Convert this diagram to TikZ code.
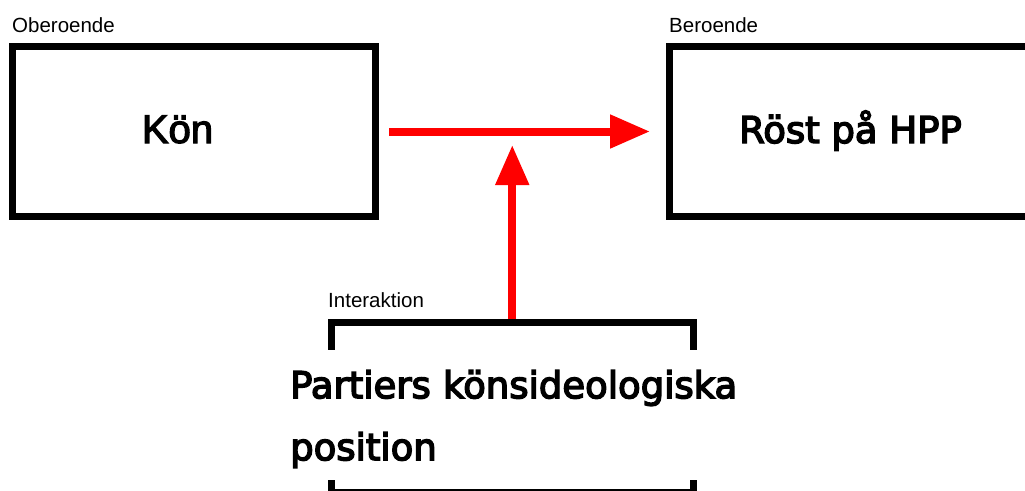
\documentclass[tikz,border=0pt]{standalone}
\usepackage{fontspec}
\setmainfont{Liberation Sans}
\newfontfamily\dvs{DejaVu Sans}[FakeBold=4]
\newfontfamily\kfont{Liberation Sans}[FakeBold=3]
\usetikzlibrary{arrows.meta}
\begin{document}
\begin{tikzpicture}[x=1pt,y=-1pt,
  box/.style={draw=black,line width=7pt,minimum width=363pt,minimum height=170pt,inner sep=0pt},
  small/.style={font=\fontsize{20.5}{24}\selectfont,inner sep=0pt},
  big/.style={font=\dvs\fontsize{37}{62}\selectfont,inner sep=0pt},
  redarrow/.style={draw=red,line width=8pt,-{Triangle[length=40pt,width=32pt]}}]
\useasboundingbox (0,0) rectangle (1025,490);
\clip (0,0) rectangle (1025,490);
\fill[white] (0,0) rectangle (1025,490);
% boxes
\node[box] (kon) at (194,131.5) {};
\node[box,minimum width=400pt] (rost) at (869.5,131.5) {};
\node[box,minimum width=362.5pt,minimum height=169.5pt] (pos) at (512.25,407.25) {};
% labels
\node[small,anchor=base west] (ob) at (12,32) {Oberoende};
\node[small,anchor=base west] (be) at (669,32) {Beroende};
\node[small,anchor=base west] (in) at (328,307) {Interaktion};
\node[font=\kfont\fontsize{40}{48}\selectfont,inner sep=0pt,anchor=base] (kont) at (177.5,143) {Kön};
\node[big,anchor=base] (rostt) at (850.5,143) {Röst på HPP};
\node[big,fill=white,anchor=north west,align=left,text width=450pt] (post) at (290,350)
  {\rule{0pt}{48pt}Partiers könsideologiska\\position\rule[-20pt]{0pt}{20pt}};
% arrows
\coordinate (mid) at (512.25,131.5);
\draw[redarrow,shorten <=10pt,shorten >=16pt] (kon.east) -- (rost.west);
\draw[redarrow,shorten >=13.5pt] (pos.north) -- (pos.north |- mid);
\end{tikzpicture}
\end{document}
